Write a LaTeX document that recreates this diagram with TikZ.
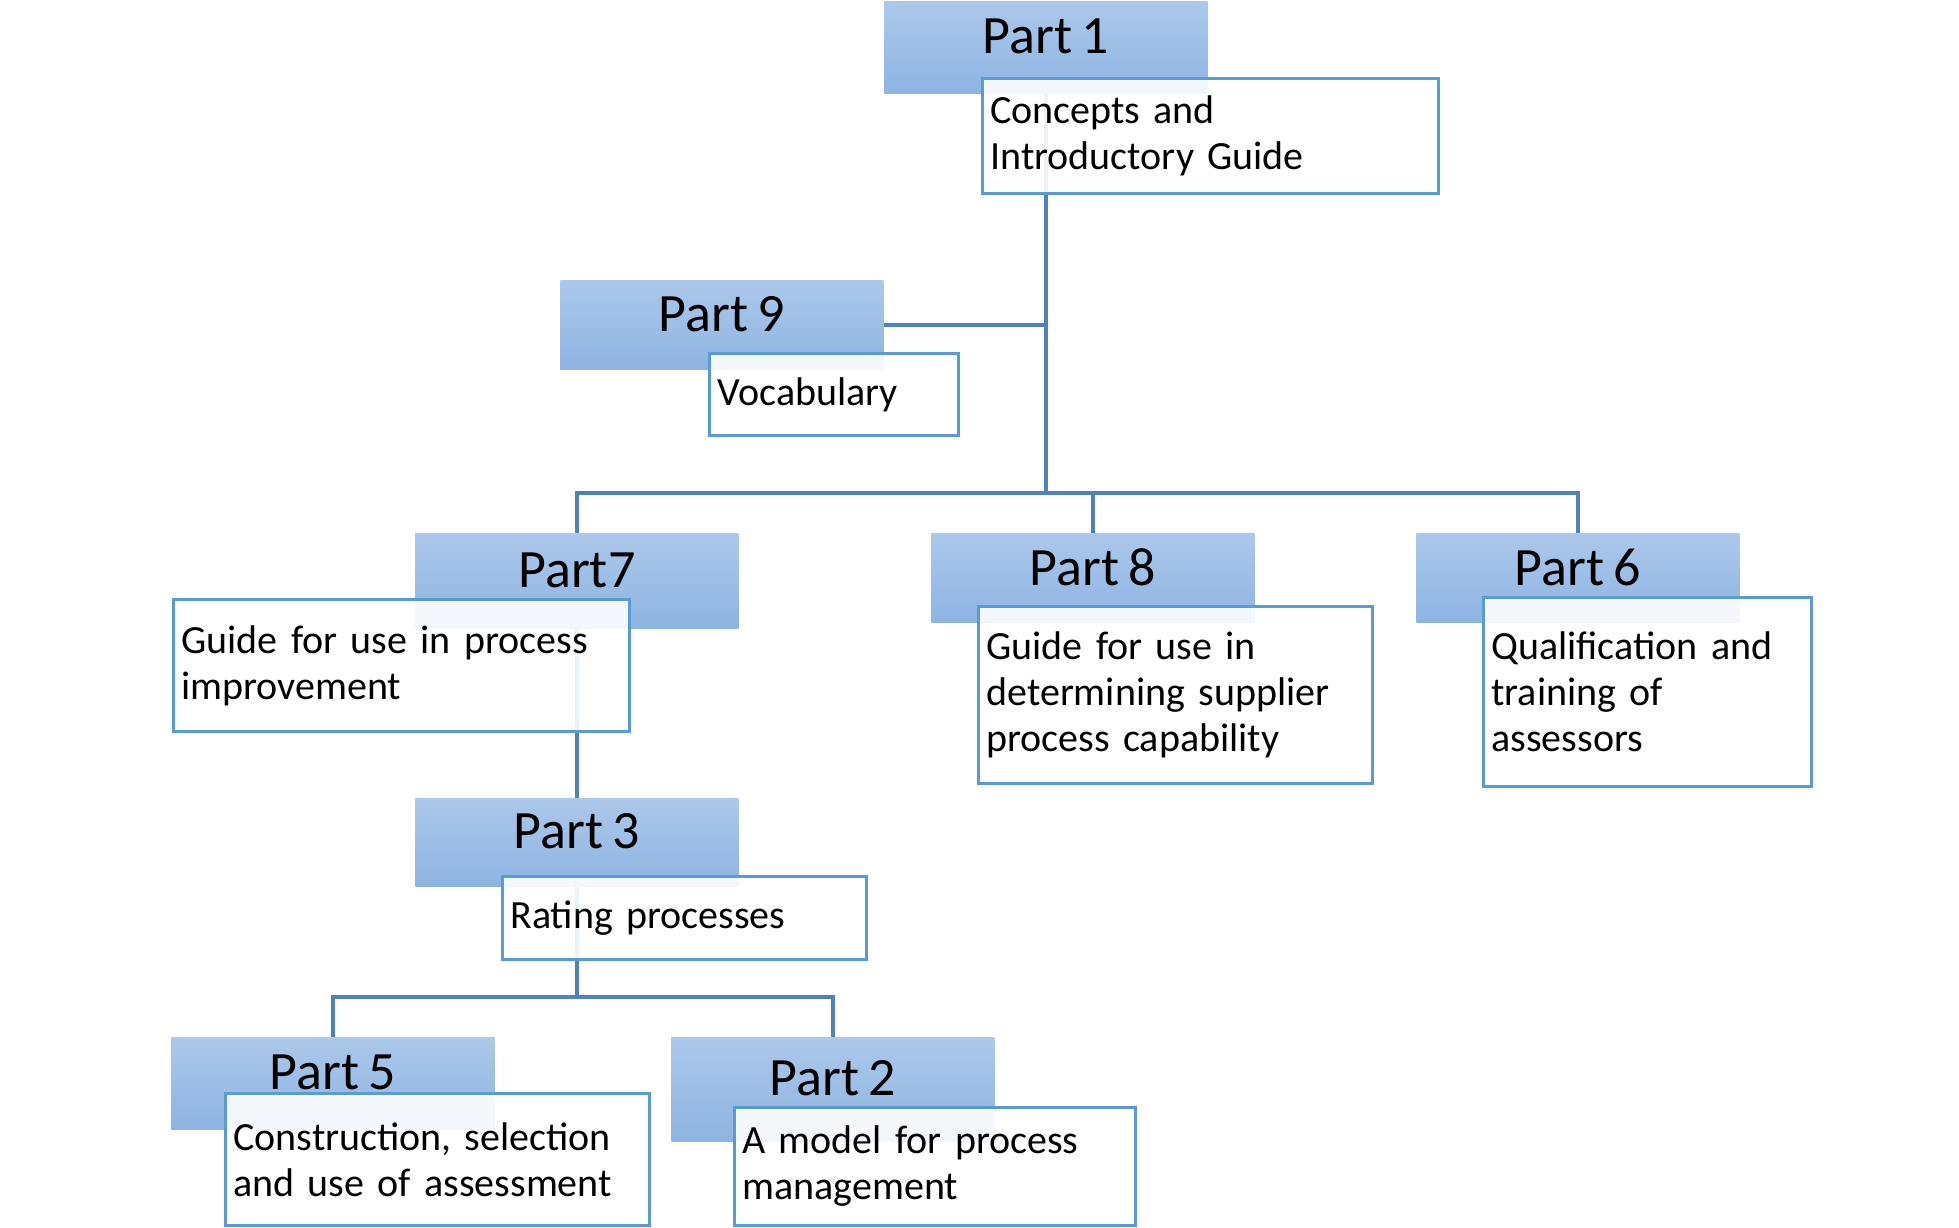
\documentclass[tikz,border=0pt]{standalone}
\usepackage{fontspec}
\setmainfont{Carlito}[WordSpace=0.8]
\usepackage{xcolor}
\definecolor{linkblue}{RGB}{79,129,189}
\definecolor{boxblue}{RGB}{91,155,213}
\definecolor{headtop}{RGB}{172,200,234}
\definecolor{headbot}{RGB}{141,180,226}
\pgfdeclarelayer{background}
\pgfsetlayers{background,main}

\begin{document}
\begin{tikzpicture}[x=0.5pt,y=-0.5pt,
  parthead/.style={anchor=north west,inner sep=0pt,top color=headtop,bottom color=headbot,
    minimum width=161.5pt,text depth=11pt,font=\fontsize{27}{32}\selectfont},
  partbox/.style={anchor=north west,draw=boxblue,line width=1.4pt,fill=white,fill opacity=0.9,
    text opacity=1,align=left,inner xsep=4pt,font=\fontsize{20}{23}\selectfont},
  link/.style={draw=linkblue,line width=2pt}]
\useasboundingbox (0,0) rectangle (1959,1227);

%Part 1
\node[parthead,minimum height=46pt] (p1hd) at (884,1) {Part 1};
\node[partbox,minimum width=228pt,minimum height=57.5pt,text width=220pt] (p1box) at (981,77) {Concepts and\\Introductory Guide};
%Part 9
\node[parthead,minimum height=44.5pt] (p9hd) at (560,280) {Part 9};
\node[partbox,minimum width=124.5pt,minimum height=41pt,text width=116.5pt] (p9box) at (708,352) {Vocabulary};
%Part 7, 8, 6
\node[parthead,minimum height=47.5pt] (p7hd) at (415,533) {Part7};
\node[partbox,minimum width=228pt,minimum height=66pt,text width=220pt] (p7box) at (172,598) {Guide for use in process\\improvement};
\node[parthead,minimum height=44.5pt] (p8hd) at (931,533) {Part 8};
\node[partbox,minimum width=197pt,minimum height=88.5pt,text width=189pt] (p8box) at (977,605) {Guide for use in\\determining supplier\\process capability};
\node[parthead,minimum height=44.5pt] (p6hd) at (1416,533) {Part 6};
\node[partbox,minimum width=164pt,minimum height=94.5pt,text width=156pt] (p6box) at (1482,596) {Qualification and\\training of\\assessors};
%Part 3
\node[parthead,minimum height=44pt] (p3hd) at (415,798) {Part 3};
\node[partbox,minimum width=182pt,minimum height=41.5pt,text width=174pt] (p3box) at (501,875) {Rating processes};
%Part 5, 2
\node[parthead,minimum height=46pt] (p5hd) at (171,1037) {Part 5};
\node[partbox,minimum width=212pt,minimum height=66pt,text width=204pt] (p5box) at (224,1092) {Construction, selection\\and use of assessment};
\node[parthead,minimum height=52pt] (p2hd) at (671,1037) {Part 2};
\node[partbox,minimum width=200.5pt,minimum height=59pt,text width=192.5pt] (p2box) at (733,1106) {A model for process\\management};

%Connectors
\coordinate (p9join) at (p1hd.south |- p9hd.east);
\coordinate (midbus) at (p1hd.south |- 0,493);
\coordinate (lowbus) at (p3hd.south |- 0,997);
\begin{pgfonlayer}{background}
\draw[link] (p1hd.south) -- (midbus);
\draw[link] (p9hd.east) -- (p9join);
\draw[link] (p7hd.north) |- (midbus) -| (p6hd.north);
\draw[link] (p8hd.north) -- (p8hd.north |- midbus);
\draw[link] (p7hd.south) -- (p3hd.north);
\draw[link] (p3hd.south) -- (lowbus);
\draw[link] (p5hd.north) |- (lowbus) -| (p2hd.north);
\end{pgfonlayer}
\end{tikzpicture}
\end{document}
